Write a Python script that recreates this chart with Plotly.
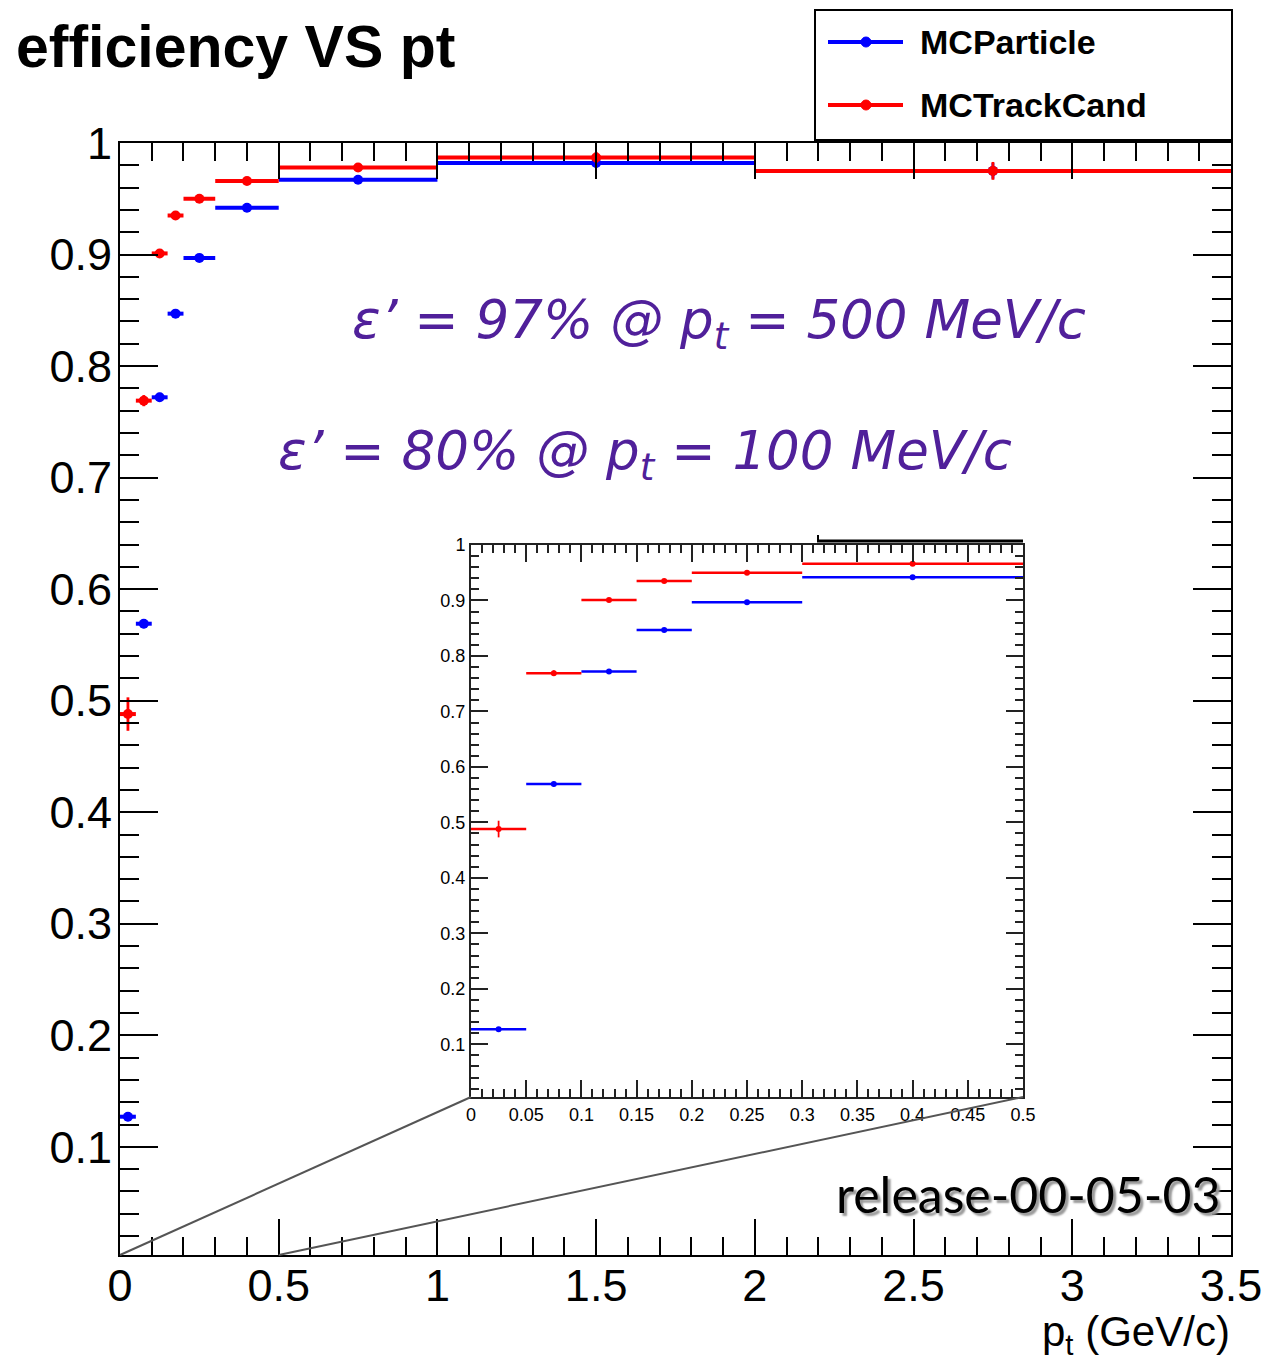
import plotly.graph_objects as go

# ---- data ----
bin_lo = [0.0, 0.05, 0.10, 0.15, 0.20, 0.30, 0.50, 1.00, 2.00]
bin_hi = [0.05, 0.10, 0.15, 0.20, 0.30, 0.50, 1.00, 2.00, 3.50]
eff_mcparticle = [0.127, 0.569, 0.772, 0.847, 0.897, 0.942, 0.967, 0.982, 0.975]
err_mcparticle = [0.004, 0.004, 0.004, 0.003, 0.003, 0.002, 0.003, 0.004, 0.007]
eff_mctrackcand = [0.488, 0.769, 0.901, 0.935, 0.950, 0.966, 0.978, 0.987, 0.975]
err_mctrackcand = [0.015, 0.005, 0.003, 0.003, 0.003, 0.002, 0.004, 0.005, 0.008]

main_xticks = [0, 0.5, 1, 1.5, 2, 2.5, 3, 3.5]
inset_xmax = 0.5

W, H = 1267, 1360
BLUE = "#0000ff"
RED = "#ff0000"
PURPLE = "#50209a"

centers = [(a + b) / 2 for a, b in zip(bin_lo, bin_hi)]
halfw = [(b - a) / 2 for a, b in zip(bin_lo, bin_hi)]

# inset uses bins within [0, 0.5]
idx_in = [i for i, b in enumerate(bin_hi) if b <= inset_xmax + 1e-9]


def px_x(p):
    return p / W


def px_y(p):
    return 1 - p / H


main_dom_x = [px_x(120), px_x(1231)]
main_dom_y = [px_y(1255), px_y(143)]
ins_dom_x = [px_x(471), px_x(1023)]
ins_dom_y = [px_y(1097), px_y(545)]

fig = go.Figure()


def add_series(y, err, color, xa, ya, idx, lw, ms, name):
    fig.add_trace(go.Scatter(
        x=[centers[i] for i in idx],
        y=[y[i] for i in idx],
        mode="markers",
        name=name,
        marker=dict(color=color, size=ms, symbol="circle"),
        error_x=dict(type="data", array=[halfw[i] for i in idx], symmetric=True,
                     color=color, thickness=lw, width=0),
        error_y=dict(type="data", array=[err[i] for i in idx], symmetric=True,
                     color=color, thickness=lw * 0.7, width=0),
        xaxis=xa, yaxis=ya, showlegend=False,
    ))


all_idx = list(range(len(bin_lo)))
add_series(eff_mcparticle, err_mcparticle, BLUE, "x", "y", all_idx, 4, 10, "MCParticle")
add_series(eff_mctrackcand, err_mctrackcand, RED, "x", "y", all_idx, 4, 10, "MCTrackCand")
add_series(eff_mcparticle, err_mcparticle, BLUE, "x2", "y2", idx_in, 2.5, 6, "MCParticle")
add_series(eff_mctrackcand, err_mctrackcand, RED, "x2", "y2", idx_in, 2.5, 6, "MCTrackCand")

main_font = dict(family="Liberation Sans, Arial, sans-serif", size=45, color="black")
ins_font = dict(family="Liberation Sans, Arial, sans-serif", size=18, color="black")

fig.update_layout(
    width=W, height=H,
    margin=dict(l=0, r=0, t=0, b=0),
    paper_bgcolor="white", plot_bgcolor="rgba(0,0,0,0)",
    showlegend=False,
    xaxis=dict(domain=main_dom_x, range=[0, 3.5], tickvals=main_xticks,
               ticktext=[f"{v:g}" for v in main_xticks],
               ticks="inside", ticklen=36, tickwidth=2, tickcolor="black",
               minor=dict(ticks="inside", ticklen=18, dtick=0.1, tick0=0, tickwidth=2, tickcolor="black"),
               showline=True, linecolor="black", linewidth=2, mirror="ticks",
               showgrid=False, zeroline=False, tickfont=main_font, automargin=False,
               ticklabelstandoff=-10, anchor="y"),
    yaxis=dict(domain=main_dom_y, range=[0.003, 1], dtick=0.1, tick0=0,
               ticks="inside", ticklen=38, tickwidth=2, tickcolor="black",
               minor=dict(ticks="inside", ticklen=19, dtick=0.02, tick0=0, tickwidth=2, tickcolor="black"),
               showline=True, linecolor="black", linewidth=2, mirror="ticks",
               showgrid=False, zeroline=False, tickfont=main_font, automargin=False,
               ticklabelstandoff=-3, anchor="x"),
    xaxis2=dict(domain=ins_dom_x, range=[0, inset_xmax], dtick=0.05, tick0=0,
                ticks="inside", ticklen=17, tickwidth=1.5, tickcolor="#222",
                minor=dict(ticks="inside", ticklen=8, dtick=0.01, tick0=0, tickwidth=1.5, tickcolor="#222"),
                showline=True, linecolor="#222", linewidth=2, mirror="ticks",
                showgrid=False, zeroline=False, tickfont=ins_font, automargin=False,
                anchor="y2"),
    yaxis2=dict(domain=ins_dom_y, range=[0.005, 1], dtick=0.1, tick0=0,
                ticks="inside", ticklen=17, tickwidth=1.5, tickcolor="#222",
                minor=dict(ticks="inside", ticklen=8, dtick=0.02, tick0=0, tickwidth=1.5, tickcolor="#222"),
                showline=True, linecolor="#222", linewidth=2, mirror="ticks",
                showgrid=False, zeroline=False, tickfont=ins_font, automargin=False,
                anchor="x2"),
)

shapes = []
# zoom connector lines (main axis origin / 0.5 to inset bottom corners)
x0_main = main_dom_x[0]
x05_main = main_dom_x[0] + (main_dom_x[1] - main_dom_x[0]) * (inset_xmax / 3.5)
shapes.append(dict(type="line", xref="paper", yref="paper",
                   x0=x0_main, y0=main_dom_y[0], x1=ins_dom_x[0], y1=ins_dom_y[0],
                   line=dict(color="#555", width=2), layer="above"))
shapes.append(dict(type="line", xref="paper", yref="paper",
                   x0=x05_main, y0=main_dom_y[0], x1=ins_dom_x[1], y1=ins_dom_y[0],
                   line=dict(color="#555", width=2), layer="above"))
# thick segment on top of inset
shapes.append(dict(type="line", xref="paper", yref="paper",
                   x0=px_x(817), y0=px_y(541), x1=ins_dom_x[1], y1=px_y(541),
                   line=dict(color="black", width=3)))
shapes.append(dict(type="line", xref="paper", yref="paper",
                   x0=px_x(818), y0=px_y(541), x1=px_x(818), y1=px_y(535),
                   line=dict(color="black", width=2)))
# legend box
shapes.append(dict(type="rect", xref="paper", yref="paper",
                   x0=px_x(815), y0=px_y(140), x1=px_x(1232), y1=px_y(10),
                   line=dict(color="black", width=2), fillcolor="white"))
for yy, col in [(42, BLUE), (105, RED)]:
    shapes.append(dict(type="line", xref="paper", yref="paper",
                       x0=px_x(828), y0=px_y(yy), x1=px_x(903), y1=px_y(yy),
                       line=dict(color=col, width=4)))
    shapes.append(dict(type="circle", xref="paper", yref="paper",
                       x0=px_x(861), y0=px_y(yy + 5), x1=px_x(871), y1=px_y(yy - 5),
                       line=dict(color=col, width=1), fillcolor=col))
fig.update_layout(shapes=shapes)

ann = []
ann.append(dict(text="<b>efficiency VS pt</b>", xref="paper", yref="paper",
                x=px_x(14), y=px_y(47), xanchor="left", yanchor="middle", showarrow=False,
                font=dict(family="Liberation Sans, Arial, sans-serif", size=59, color="black")))
for yy, name in [(42, "MCParticle"), (105, "MCTrackCand")]:
    ann.append(dict(text=f"<b>{name}</b>", xref="paper", yref="paper",
                    x=px_x(918), y=px_y(yy), xanchor="left", yanchor="middle", showarrow=False,
                    font=dict(family="Liberation Sans, Arial, sans-serif", size=34, color="black")))
ann.append(dict(text="<i>ε’ = 97% @ p<sub>t</sub> = 500 MeV/c</i>", xref="paper", yref="paper",
                x=px_x(350), y=px_y(323), xanchor="left", yanchor="middle", showarrow=False,
                font=dict(family="DejaVu Sans, Verdana, sans-serif", size=53, color=PURPLE)))
ann.append(dict(text="<i>ε’ = 80% @ p<sub>t</sub> = 100 MeV/c</i>", xref="paper", yref="paper",
                x=px_x(276), y=px_y(455), xanchor="left", yanchor="middle", showarrow=False,
                font=dict(family="DejaVu Sans, Verdana, sans-serif", size=53, color=PURPLE)))
# release tag with shadow
ann.append(dict(text="release-00-05-03", xref="paper", yref="paper",
                x=px_x(1222), y=px_y(1194), xanchor="right", yanchor="middle", showarrow=False,
                font=dict(family="Lato, Open Sans, sans-serif", size=50, color="black",
                          shadow="3px 3px 2px #999999")))
# axis title
ann.append(dict(text="p<sub>t</sub> (GeV/c)", xref="paper", yref="paper",
                x=px_x(1232), y=px_y(1334), xanchor="right", yanchor="middle", showarrow=False,
                font=dict(family="Liberation Sans, Arial, sans-serif", size=42, color="black")))
fig.update_layout(annotations=ann)

fig.write_html("out.html")
